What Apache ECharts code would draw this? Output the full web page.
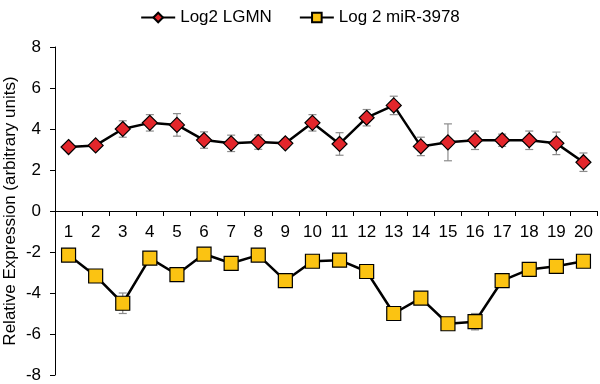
<!DOCTYPE html>
<html>
<head>
<meta charset="utf-8">
<script src="https://cdn.jsdelivr.net/npm/echarts@6/dist/echarts.min.js"></script>
<style>
  html, body { margin: 0; padding: 0; background: #fff; }
  #chart { width: 600px; height: 384px; }
</style>
</head>
<body>
<div id="chart"></div>
<script>
  var samples = ['1','2','3','4','5','6','7','8','9','10','11','12','13','14','15','16','17','18','19','20'];
  var lgmn = [3.12, 3.2, 4.0, 4.3, 4.2, 3.46, 3.3, 3.36, 3.3, 4.3, 3.27, 4.55, 5.15, 3.15, 3.35, 3.45, 3.45, 3.45, 3.3, 2.38];
  var lgmnErr = [0.1, 0.12, 0.4, 0.4, 0.55, 0.4, 0.4, 0.35, 0.2, 0.4, 0.55, 0.4, 0.45, 0.45, 0.9, 0.45, 0.3, 0.45, 0.55, 0.45];
  var mir = [-2.15, -3.17, -4.5, -2.3, -3.1, -2.1, -2.55, -2.15, -3.4, -2.45, -2.4, -2.95, -5.0, -4.25, -5.5, -5.4, -3.4, -2.85, -2.7, -2.45];
  var mirErr = [0.3, 0.2, 0.5, 0.1, 0.3, 0.15, 0.3, 0.2, 0.1, 0.1, 0.1, 0.1, 0.2, 0.25, 0.1, 0.4, 0.3, 0.1, 0.3, 0.1];

  function errData(vals, errs) {
      return vals.map(function (v, i) { return [i, v - errs[i], v + errs[i]]; });
  }

  function renderErr(params, api) {
      var lo = api.coord([api.value(0), api.value(1)]);
      var hi = api.coord([api.value(0), api.value(2)]);
      var w = 4;
      var st = { stroke: '#8c8c8c', lineWidth: 1.2 };
      return {
          type: 'group',
          children: [
              { type: 'line', shape: { x1: lo[0], y1: lo[1], x2: hi[0], y2: hi[1] }, style: st },
              { type: 'line', shape: { x1: lo[0] - w, y1: lo[1], x2: lo[0] + w, y2: lo[1] }, style: st },
              { type: 'line', shape: { x1: hi[0] - w, y1: hi[1], x2: hi[0] + w, y2: hi[1] }, style: st }
          ]
      };
  }

  var dom = document.getElementById('chart');
  var myChart = echarts.init(dom);
  var option = {
      animation: false,
      textStyle: { fontFamily: 'Liberation Sans, Arial, sans-serif' },
      legend: {
          top: 4,
          left: 'center',
          itemGap: 27,
          itemWidth: 34,
          itemHeight: 12,
          textStyle: { fontSize: 17, color: '#000', fontFamily: 'Liberation Sans, Arial, sans-serif' },
          data: ['Log2 LGMN', 'Log 2 miR-3978']
      },
      grid: { left: 55, right: 3, top: 47, bottom: 9, containLabel: false, outerBoundsMode: 'none' },
      xAxis: {
          type: 'category',
          data: samples,
          position: 'bottom',
          offset: -164,   // puts the category axis on y = 0
          axisLine: { onZero: false, lineStyle: { color: '#000', width: 1 } },
          axisTick: { show: true, alignWithLabel: false, length: 5, lineStyle: { color: '#000' } },
          axisLabel: { color: '#000', fontSize: 17, margin: 13, interval: 0 },
          splitLine: { show: false }
      },
      yAxis: {
          type: 'value',
          min: -8,
          max: 8,
          interval: 2,
          name: 'Relative Expression (arbitrary units)',
          nameLocation: 'middle',
          nameGap: 36,
          nameMoveOverlap: false,
          nameTextStyle: { color: '#000', fontSize: 17 },
          axisLine: { show: true, lineStyle: { color: '#000' } },
          axisTick: { show: true, length: 5, lineStyle: { color: '#000' } },
          axisLabel: { color: '#000', fontSize: 17, margin: 14 },
          splitLine: { show: false }
      },
      series: [
          {
              name: 'LGMN err',
              type: 'custom',
              renderItem: renderErr,
              data: errData(lgmn, lgmnErr),
              encode: { x: 0, y: [1, 2] },
              z: 1
          },
          {
              name: 'miR err',
              type: 'custom',
              renderItem: renderErr,
              data: errData(mir, mirErr),
              encode: { x: 0, y: [1, 2] },
              z: 1
          },
          {
              name: 'Log2 LGMN',
              type: 'line',
              data: lgmn,
              symbol: 'diamond',
              symbolSize: 15,
              lineStyle: { color: '#000', width: 2.5 },
              itemStyle: { color: '#e3262b', borderColor: '#000', borderWidth: 1.2 },
              z: 3
          },
          {
              name: 'Log 2 miR-3978',
              type: 'line',
              data: mir,
              symbol: 'rect',
              symbolSize: 14,
              lineStyle: { color: '#000', width: 2.5 },
              itemStyle: { color: '#fbc312', borderColor: '#000', borderWidth: 1.2 },
              z: 3
          }
      ]
  };
  myChart.setOption(option, true);
</script>
</body>
</html>
